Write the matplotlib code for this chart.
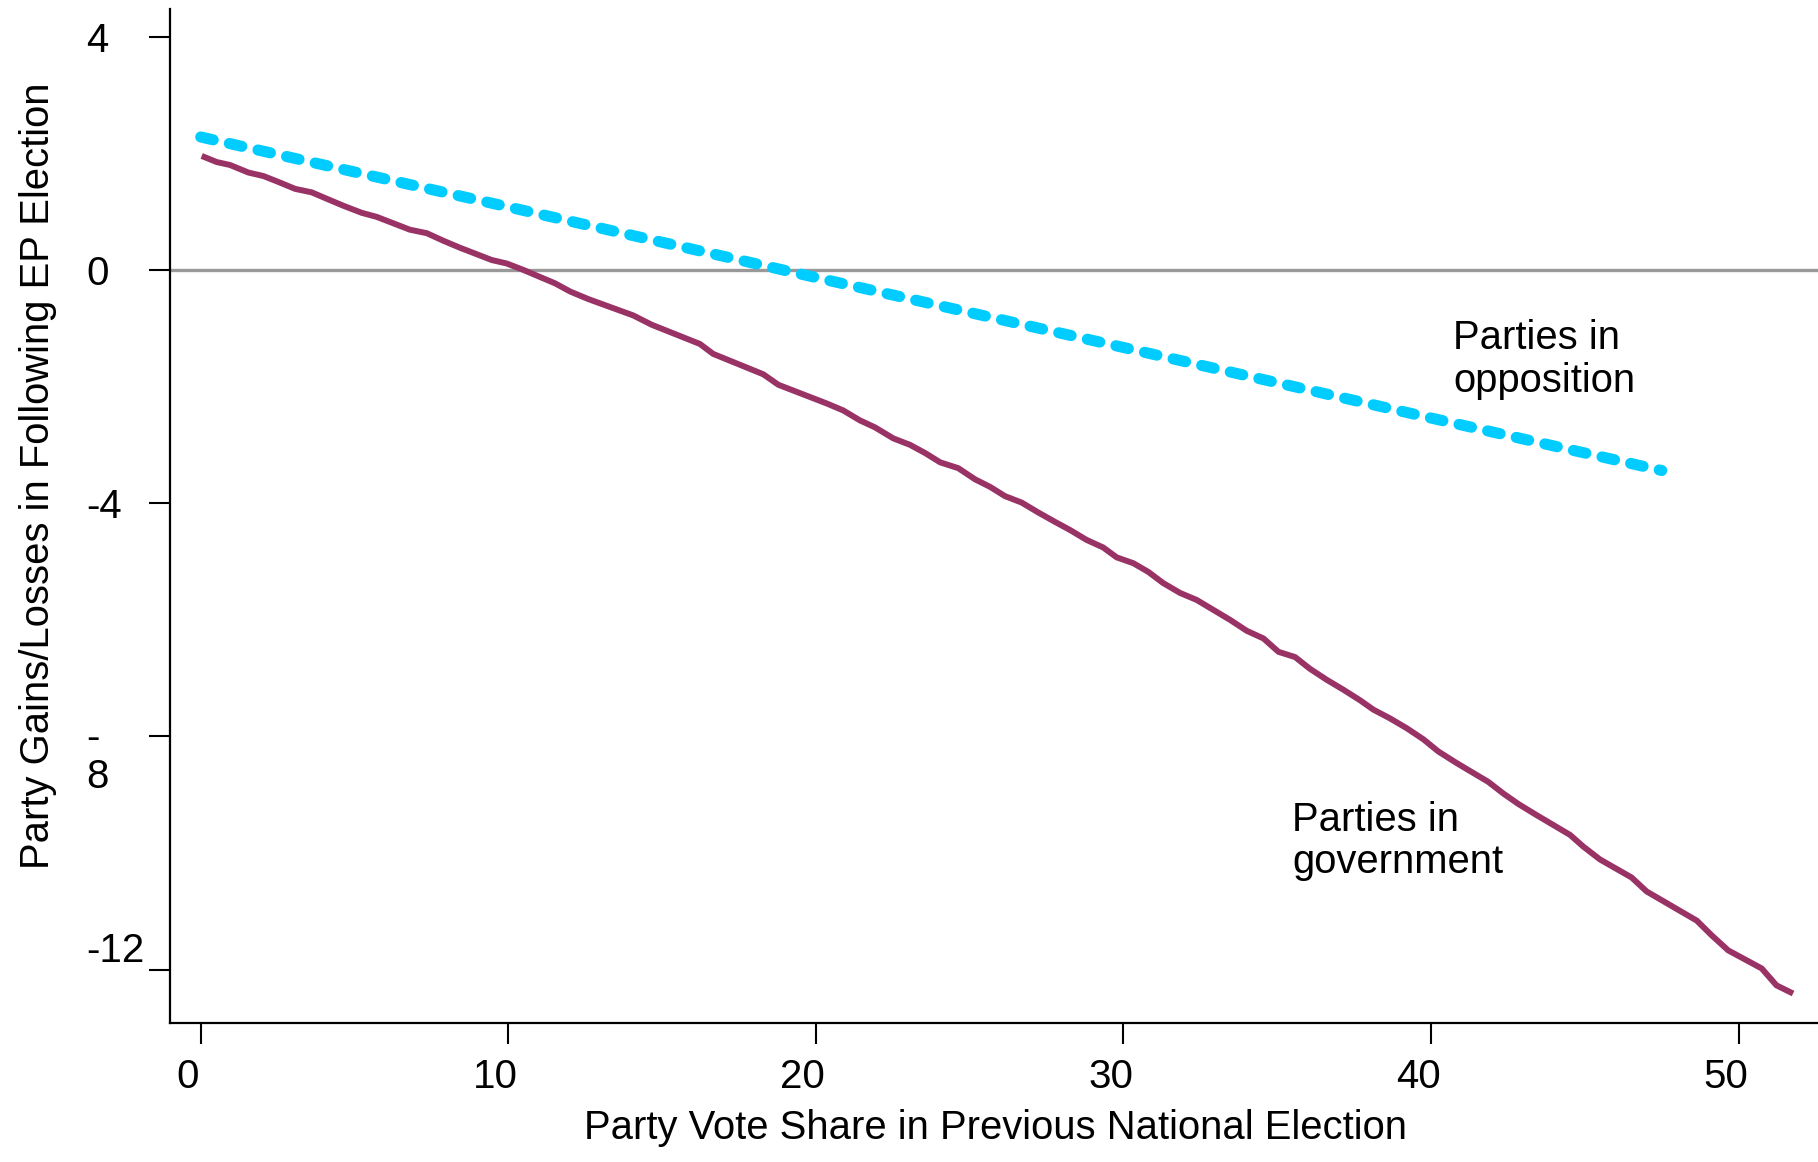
import matplotlib
matplotlib.use("Agg")
import matplotlib.pyplot as plt
import matplotlib.transforms as mtransforms

plt.rcParams['font.family'] = ['Liberation Sans', 'DejaVu Sans']

# parties in government (solid line)
gov_x = [0.03, 0.52, 0.95, 1.55, 2.04, 2.52, 3.07, 3.61, 4.10, 4.64, 5.23, 5.72,
         6.21, 6.80, 7.35, 7.89, 8.43, 8.97, 9.46, 9.95, 10.49, 10.98, 11.52, 12.01,
         12.60, 14.06, 14.66, 16.23, 16.66, 18.29, 18.78, 20.35, 20.89, 21.43, 21.92,
         22.52, 23.06, 23.55, 24.04, 24.63, 25.17, 25.66, 26.15, 26.69, 27.23, 27.77,
         28.26, 28.80, 29.34, 29.78, 30.32, 30.81, 31.29, 31.84, 32.38, 32.92, 33.46,
         34.01, 34.55, 35.04, 35.58, 36.06, 36.61, 37.15, 37.69, 38.12, 38.66, 39.21,
         39.75, 40.24, 40.84, 41.86, 42.35, 42.84, 43.43, 44.52, 44.95, 45.49, 46.52,
         47.01, 48.64, 49.12, 49.66, 50.75, 51.23, 51.77]
gov_y = [1.955, 1.85, 1.80, 1.67, 1.61, 1.51, 1.39, 1.33, 1.22, 1.10, 0.98, 0.91,
         0.81, 0.69, 0.63, 0.50, 0.38, 0.27, 0.17, 0.11, 0.00, -0.11, -0.23, -0.37,
         -0.50, -0.78, -0.94, -1.27, -1.44, -1.79, -1.97, -2.29, -2.41, -2.58, -2.70,
         -2.89, -3.00, -3.14, -3.30, -3.40, -3.59, -3.72, -3.88, -3.99, -4.16, -4.32,
         -4.46, -4.63, -4.76, -4.93, -5.03, -5.18, -5.37, -5.54, -5.66, -5.83, -6.00,
         -6.19, -6.32, -6.55, -6.64, -6.84, -7.03, -7.20, -7.38, -7.54, -7.69, -7.86,
         -8.05, -8.26, -8.46, -8.78, -8.98, -9.16, -9.35, -9.69, -9.89, -10.11, -10.42,
         -10.66, -11.16, -11.41, -11.67, -11.98, -12.27, -12.41]

# parties in opposition (dashed line)
opp_x = [0, 10, 20, 30, 40, 47.5]
opp_y = [2.28, 1.08, -0.13, -1.33, -2.54, -3.44]

x_ticks = [0, 10, 20, 30, 40, 50]
y_ticks = [4, 0, -4, -8, -12]
y_tick_labels = ['4', '0', '-4', '-\n8', '-12']

FS = 28.8

fig = plt.figure(figsize=(18.18, 11.62), dpi=100)
ax = fig.add_axes([0.0935, 0.1194, 0.9065, 0.8726])

ax.axhline(0, color='#999999', lw=2.4, zorder=1)
# dash period chosen so the line ends on a small round dot like the original
ax.plot(opp_x, opp_y, color='#00CCFF', lw=8.0, linestyle=(0, (1.15, 1.49)),
        dash_capstyle='round', zorder=3)
ax.plot(gov_x, gov_y, color='#993366', lw=4.3, solid_capstyle='butt', zorder=2)

ax.set_xlim(-1.0, 52.58)
ax.set_ylim(-12.92, 4.47)

for side in ['top', 'right']:
    ax.spines[side].set_visible(False)
for side in ['left', 'bottom']:
    ax.spines[side].set_linewidth(1.6)

ax.set_xticks(x_ticks)
ax.set_xticklabels([str(v) for v in x_ticks])
ax.set_yticks(y_ticks)
ax.set_yticklabels(y_tick_labels)
ax.tick_params(axis='both', length=15.1, width=1.5, color='black')
ax.tick_params(axis='x', labelsize=29, pad=10.2)
ax.tick_params(axis='y', labelsize=29, pad=45.4)

# x tick labels sit a little left of their ticks
shift = mtransforms.ScaledTranslation(-13 / 100, 0, fig.dpi_scale_trans)
for lab in ax.get_xticklabels():
    lab.set_transform(lab.get_transform() + shift)

down = mtransforms.ScaledTranslation(0, -52 / 100, fig.dpi_scale_trans)
for lab in ax.get_yticklabels():
    lab.set_horizontalalignment('left')
    lab.set_multialignment('left')
    txt = lab.get_text()
    if txt == '-12':
        lab.set_verticalalignment('bottom')
    elif '\n' in txt:
        lab.set_verticalalignment('baseline')
        lab.set_linespacing(1.06)
        lab.set_transform(lab.get_transform() + down)

ax.set_xlabel('Party Vote Share in Previous National Election', fontsize=FS,
              va='baseline')
ax.xaxis.set_label_coords(0.501, -0.114)
ax.set_ylabel('Party Gains/Losses in Following EP Election', fontsize=FS)
ax.yaxis.set_label_coords(-0.0686, 0.540)

ax.text(40.71, -2.087, 'Parties in\nopposition', fontsize=FS, va='baseline',
        ha='left', linespacing=1.15)
ax.text(35.49, -10.35, 'Parties in\ngovernment', fontsize=FS, va='baseline',
        ha='left', linespacing=1.15)

fig.savefig('out.png', dpi=100)
